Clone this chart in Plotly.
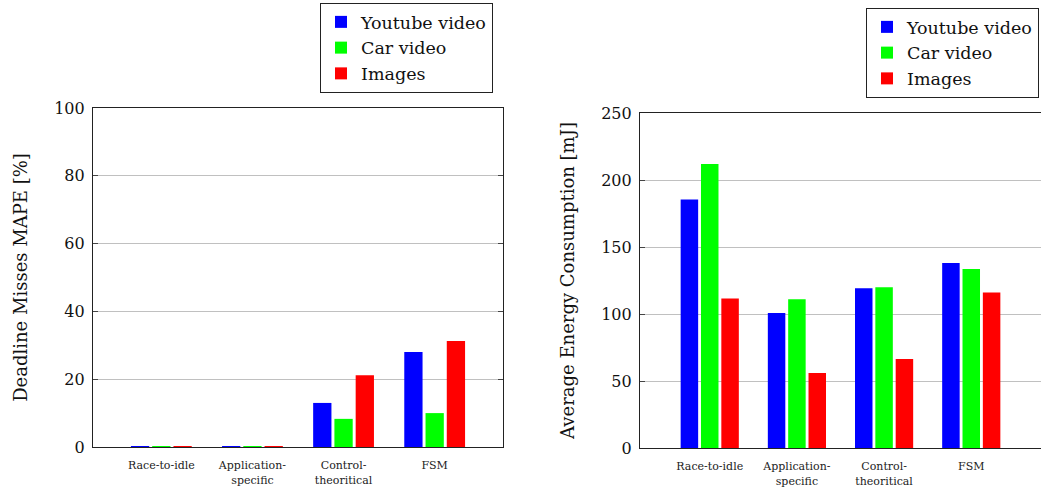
import plotly.graph_objects as go

# Categories (x tick labels) shared by both panels
categories = ["Race-to-idle", "Application-<br>specific", "Control-<br>theoritical", "FSM"]
series_names = ["Youtube video", "Car video", "Images"]
series_colors = ["#0000ff", "#00ff00", "#ff0000"]

# Deadline misses MAPE [%]
misses_youtube = [0.2, 0.2, 13.0, 28.0]
misses_car = [0.2, 0.2, 8.3, 10.0]
misses_images = [0.2, 0.2, 21.2, 31.3]

# Average energy consumption [mJ]
energy_youtube = [185.5, 100.8, 119.3, 138.0]
energy_car = [212.0, 111.0, 120.0, 133.5]
energy_images = [111.5, 56.0, 66.5, 116.0]

W, H = 1041, 488
SERIF = "DejaVu Serif, Liberation Serif, serif"

fig = go.Figure()

x_idx = list(range(len(categories)))

for name, color, vals in zip(series_names, series_colors,
                             [misses_youtube, misses_car, misses_images]):
    fig.add_trace(go.Bar(x=x_idx, y=vals, name=name, marker_color=color,
                         marker_line_width=0, xaxis="x", yaxis="y",
                         legend="legend"))

for name, color, vals in zip(series_names, series_colors,
                             [energy_youtube, energy_car, energy_images]):
    fig.add_trace(go.Bar(x=x_idx, y=vals, name=name, marker_color=color,
                         marker_line_width=0, xaxis="x2", yaxis="y2",
                         legend="legend2"))


def px_x(p):
    return p / W


def px_y(p):
    return 1 - p / H


axis_common = dict(showline=True, linecolor="#222", linewidth=1.2,
                   zeroline=False, automargin=False)

x_common = dict(axis_common, tickmode="array", tickvals=x_idx,
                ticktext=categories, ticks="", showgrid=False,
                tickfont=dict(family=SERIF, size=11, color="#222"),
                ticklabelstandoff=8)

y_common = dict(axis_common, ticks="inside", ticklen=5, tickcolor="#444",
                showgrid=True, gridcolor="#c0c0c0", gridwidth=1,
                tickfont=dict(family=SERIF, size=16, color="#111"),
                title_font=dict(family=SERIF, size=18, color="#111"),
                ticklabelstandoff=4)

legend_common = dict(xanchor="left", yanchor="top",
                     bordercolor="#222", borderwidth=1, bgcolor="white",
                     font=dict(family=SERIF, size=17.5, color="#111"),
                     itemwidth=30, tracegroupgap=0)

fig.update_layout(
    width=W, height=H,
    margin=dict(l=0, r=0, t=0, b=0, autoexpand=False),
    paper_bgcolor="white", plot_bgcolor="white",
    barmode="group", bargap=0.3, bargroupgap=0.14,
    xaxis=dict(x_common, domain=[px_x(93), px_x(503)], range=[-0.75, 3.75],
               anchor="y", mirror=True),
    yaxis=dict(y_common, domain=[px_y(447), px_y(108)], range=[0, 100],
               tickvals=[0, 20, 40, 60, 80, 100], anchor="x", mirror="ticks",
               title=dict(text="Deadline Misses MAPE [%]", standoff=21)),
    xaxis2=dict(x_common, domain=[px_x(640), 1.0], range=[-0.8, 3.8],
                anchor="y2", mirror=True),
    yaxis2=dict(y_common, domain=[px_y(448), px_y(113)], range=[0, 250],
                tickvals=[0, 50, 100, 150, 200, 250], anchor="x2", mirror=False,
                title=dict(text="Average Energy Consumption [mJ]", standoff=21)),
    legend=dict(legend_common, x=px_x(320), y=px_y(3)),
    legend2=dict(legend_common, x=px_x(866), y=px_y(8)),
)

fig.write_html("out.html")
